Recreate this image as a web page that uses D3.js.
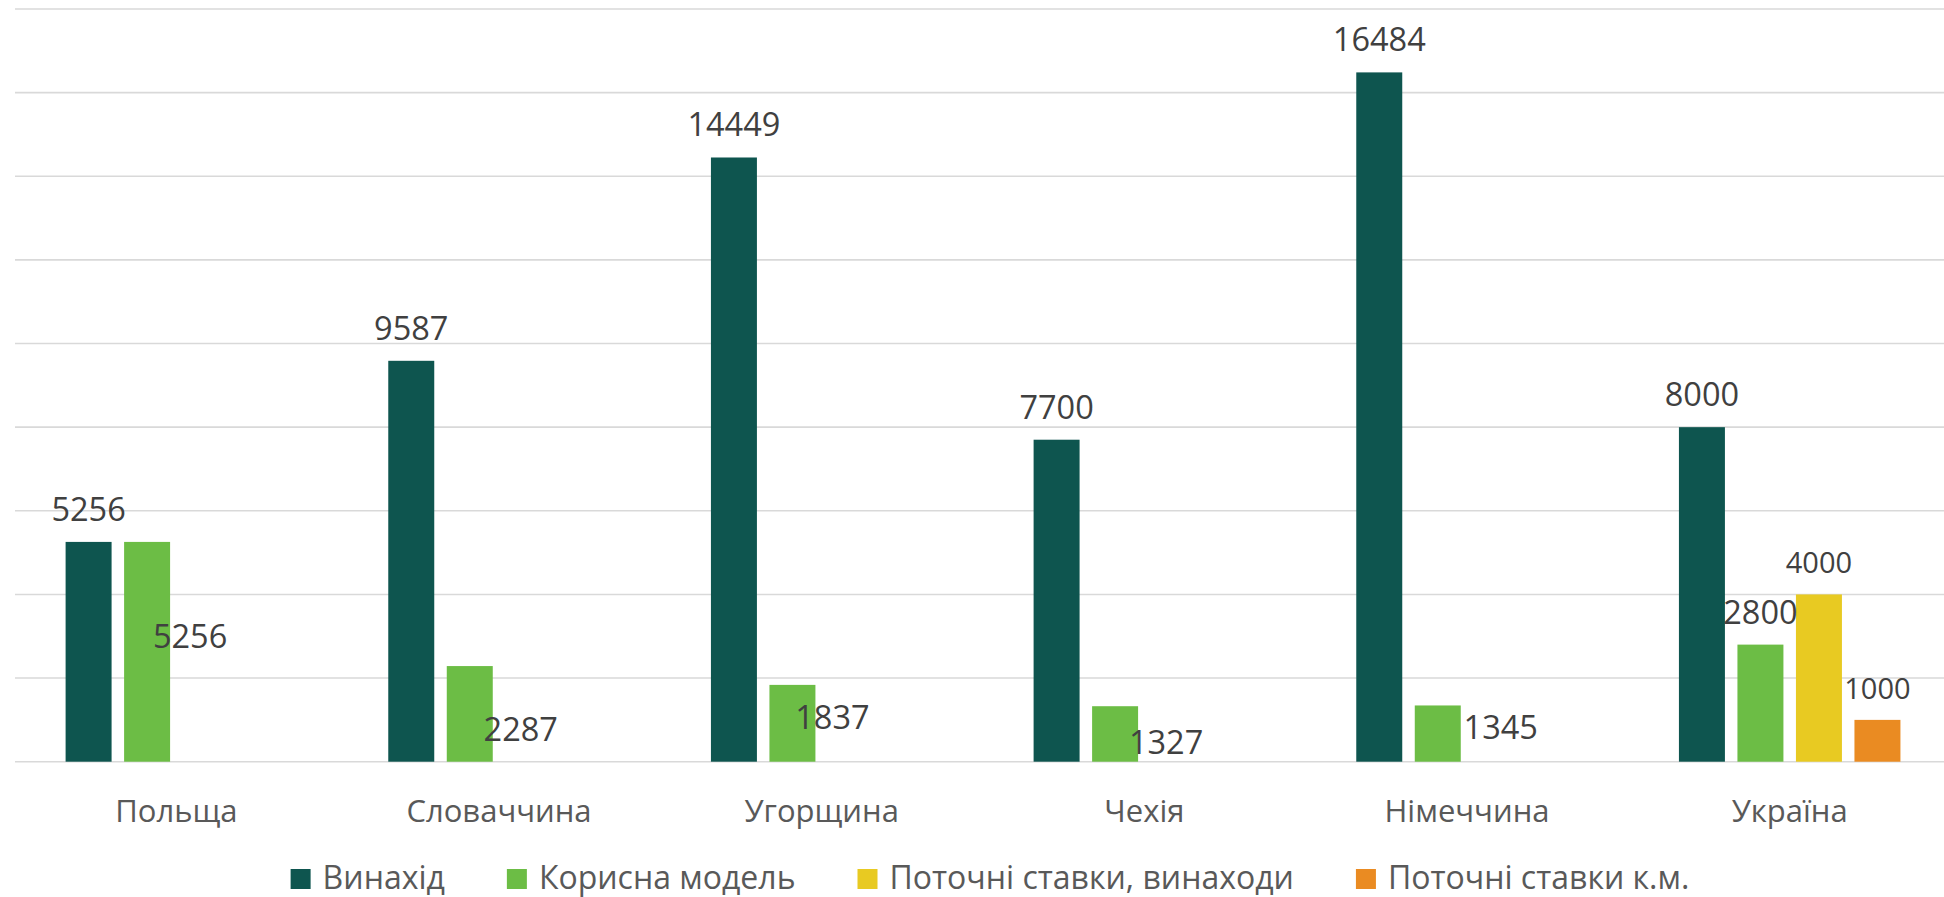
<!DOCTYPE html>
<html>
<head>
<meta charset="utf-8">
<script src="https://cdn.jsdelivr.net/npm/d3@7"></script>
<style>
	body { margin: 0; background: #fff; }
	text { font-family: "Open Sans", sans-serif; }
</style>
</head>
<body>
<div id="chart"></div>
<script>
// categories and series
const countries = ["Польща", "Словаччина", "Угорщина", "Чехія", "Німеччина", "Україна"];
const seriesNames = ["Винахід", "Корисна модель", "Поточні ставки, винаходи", "Поточні ставки к.м."];
const invention = [5256, 9587, 14449, 7700, 16484, 8000];
const utilityModel = [5256, 2287, 1837, 1327, 1345, 2800];
const currentInvention = [null, null, null, null, null, 4000];
const currentUtility = [null, null, null, null, null, 1000];
const yTicks = [0, 2000, 4000, 6000, 8000, 10000, 12000, 14000, 16000, 18000];

const colors = ["#0e554f", "#6cbd45", "#e8ca22", "#ea8b22"];
// manual label offsets for "Корисна модель" (moved by hand in the original)
const utilityLabelDx = [43, 51, 40, 51, 63, 0];
const utilityLabelDy = [95, 63, 33, 36, 22, -32];

const width = 1944, height = 897;
const plot = {left: 15, right: 1951, top: 9, bottom: 761.7};

const svg = d3.select("#chart")
	.append("svg")
		.attr("width", width)
		.attr("height", height);

const x0 = d3.scaleBand()
	.domain(countries)
	.range([plot.left, plot.right]);

const x1 = d3.scaleBand()
	.domain(seriesNames)
	.range([50.6, 272.1])
	.paddingInner(0.214);

const y = d3.scaleLinear()
	.domain([0, 18000])
	.range([plot.bottom, plot.top]);

// gridlines
svg.append("g")
	.selectAll("line")
	.data(yTicks)
	.join("line")
		.attr("x1", plot.left)
		.attr("x2", width)
		.attr("y1", d => y(d))
		.attr("y2", d => y(d))
		.attr("stroke", "#d9d9d9")
		.attr("stroke-width", 1.6);

const allSeries = [invention, utilityModel, currentInvention, currentUtility];
const bars = [];
allSeries.forEach((vals, s) => {
	vals.forEach((v, i) => {
		if (v == null) return;
		bars.push({series: seriesNames[s], si: s, country: countries[i], ci: i, value: v});
	});
});

svg.append("g")
	.selectAll("rect")
	.data(bars)
	.join("rect")
		.attr("x", d => x0(d.country) + x1(d.series))
		.attr("y", d => y(d.value))
		.attr("width", x1.bandwidth())
		.attr("height", d => y(0) - y(d.value))
		.attr("fill", d => colors[d.si]);

// data labels
svg.append("g")
	.selectAll("text")
	.data(bars)
	.join("text")
		.attr("text-anchor", "middle")
		.attr("x", d => {
			const cx = x0(d.country) + x1(d.series) + x1.bandwidth() / 2;
			return d.si === 1 ? cx + utilityLabelDx[d.ci] : cx;
		})
		.attr("y", d => {
			const top = y(d.value);
			if (d.si === 1) return top + utilityLabelDy[d.ci] + 11.5;
			return top - 21;
		})
		.attr("font-size", d => d.si >= 2 ? "29px" : "32.5px")
		.attr("fill", "#404040")
		.text(d => d.value);

// category labels
svg.append("g")
	.selectAll("text")
	.data(countries)
	.join("text")
		.attr("x", d => x0(d) + x0.bandwidth() / 2)
		.attr("y", 822)
		.attr("text-anchor", "middle")
		.attr("font-size", "31px")
		.attr("fill", "#595959")
		.text(d => d);

// legend
const legend = svg.append("g");
const items = legend.selectAll("g")
	.data(seriesNames)
	.join("g");
items.append("rect")
	.attr("width", 20)
	.attr("height", 20)
	.attr("y", 869)
	.attr("fill", (d, i) => colors[i]);
items.append("text")
	.attr("x", 32)
	.attr("y", 889)
	.attr("font-size", "32px")
	.attr("fill", "#595959")
	.text(d => d);

let offset = 0;
const itemX = [];
items.each(function() {
	itemX.push(offset);
	const w = d3.select(this).select("text").node().getComputedTextLength();
	offset += 32 + w + 62;
});
const totalW = offset - 62;
const legendStart = 990 - totalW / 2;
items.attr("transform", (d, i) => `translate(${legendStart + itemX[i]},0)`);
</script>
</body>
</html>
